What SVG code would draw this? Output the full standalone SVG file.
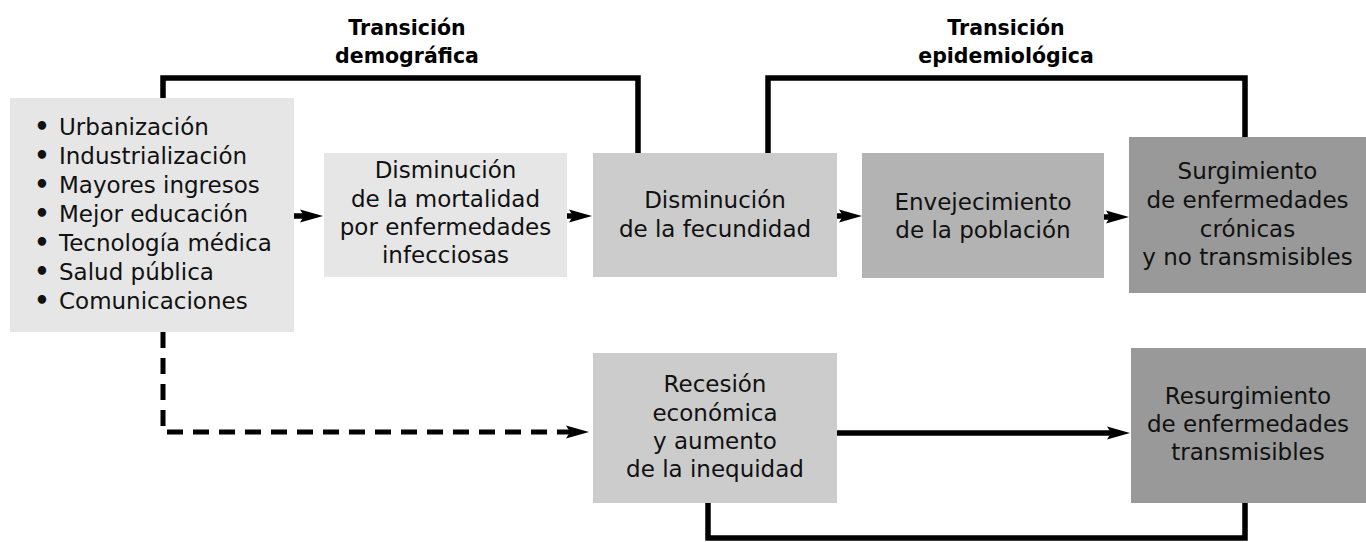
<svg xmlns="http://www.w3.org/2000/svg" width="1366" height="542" viewBox="0 0 1366 542">
<style>
.t{font-family:"DejaVu Sans",sans-serif;font-size:23px;fill:#111;text-anchor:middle}
.l{font-family:"DejaVu Sans",sans-serif;font-size:23px;fill:#111}
.b{font-family:"DejaVu Sans",sans-serif;font-size:24px;font-weight:bold;fill:#111;text-anchor:middle}
.h{font-family:"DejaVu Sans",sans-serif;font-size:20.5px;font-weight:bold;fill:#000;text-anchor:middle}
.c{fill:none;stroke:#000;stroke-width:5.5;stroke-linejoin:miter;stroke-linecap:butt}
.d{fill:none;stroke:#000;stroke-width:5;stroke-dasharray:16 10}
</style>
<defs>
<marker id="ah" markerUnits="userSpaceOnUse" markerWidth="24" markerHeight="14" refX="5" refY="7" orient="auto">
<path d="M0,0.5 L23,7 L0,13.5 L4,7 Z" fill="#000"/>
</marker>
</defs>
<rect width="1366" height="542" fill="#fff"/>
<g id="labels">
<text class="h" x="407" y="35">Transición</text>
<text class="h" x="407" y="63">demográfica</text>
<text class="h" x="1006" y="35">Transición</text>
<text class="h" x="1006" y="63">epidemiológica</text>
</g>
<g id="connectors">
<path class="c" d="M163,98 V78 H638 V153"/>
<path class="c" d="M768,153 V78 H1245 V137"/>
<path class="c" d="M708,503 V538 H1245 V503"/>
<path class="d" d="M163,332 V432 H571" marker-end="url(#ah)"/>
<line class="c" x1="294" y1="216" x2="305" y2="216" marker-end="url(#ah)"/>
<line class="c" x1="567" y1="216" x2="574" y2="216" marker-end="url(#ah)"/>
<line class="c" x1="837" y1="216" x2="844" y2="216" marker-end="url(#ah)"/>
<line class="c" x1="1104" y1="217" x2="1111" y2="217" marker-end="url(#ah)"/>
<line class="c" x1="837" y1="433" x2="1112" y2="433" marker-end="url(#ah)"/>
</g>
<g id="node-factores">
<rect x="10" y="98" width="284" height="234" fill="#e6e6e6"/>
<text class="b" x="42" y="135">•</text>
<text class="b" x="42" y="164">•</text>
<text class="b" x="42" y="193">•</text>
<text class="b" x="42" y="222">•</text>
<text class="b" x="42" y="251">•</text>
<text class="b" x="42" y="280">•</text>
<text class="b" x="42" y="309">•</text>
<text class="l" x="59" y="135">Urbanización</text>
<text class="l" x="59" y="164">Industrialización</text>
<text class="l" x="59" y="193">Mayores ingresos</text>
<text class="l" x="59" y="222">Mejor educación</text>
<text class="l" x="59" y="251">Tecnología médica</text>
<text class="l" x="59" y="280">Salud pública</text>
<text class="l" x="59" y="309">Comunicaciones</text>
</g>
<g id="node-mortalidad">
<rect x="324" y="153" width="243" height="124" fill="#e6e6e6"/>
<text class="t" x="445.5" y="178">Disminución</text>
<text class="t" x="445.5" y="207">de la mortalidad</text>
<text class="t" x="445.5" y="235">por enfermedades</text>
<text class="t" x="445.5" y="263">infecciosas</text>
</g>
<g id="node-fecundidad">
<rect x="593" y="153" width="244" height="124" fill="#cccccc"/>
<text class="t" x="715" y="208">Disminución</text>
<text class="t" x="715" y="237">de la fecundidad</text>
</g>
<g id="node-envejecimiento">
<rect x="862" y="153" width="242" height="125" fill="#b3b3b3"/>
<text class="t" x="983" y="210">Envejecimiento</text>
<text class="t" x="983" y="238">de la población</text>
</g>
<g id="node-surgimiento">
<rect x="1129" y="137" width="237" height="156" fill="#999999"/>
<text class="t" x="1247.5" y="179">Surgimiento</text>
<text class="t" x="1247.5" y="208">de enfermedades</text>
<text class="t" x="1247.5" y="237">crónicas</text>
<text class="t" x="1247.5" y="265">y no transmisibles</text>
</g>
<g id="node-recesion">
<rect x="593" y="353" width="244" height="150" fill="#cccccc"/>
<text class="t" x="715" y="392">Recesión</text>
<text class="t" x="715" y="421">económica</text>
<text class="t" x="715" y="449">y aumento</text>
<text class="t" x="715" y="477">de la inequidad</text>
</g>
<g id="node-resurgimiento">
<rect x="1131" y="348" width="235" height="155" fill="#999999"/>
<text class="t" x="1248" y="404">Resurgimiento</text>
<text class="t" x="1248" y="432">de enfermedades</text>
<text class="t" x="1248" y="460">transmisibles</text>
</g>
</svg>
